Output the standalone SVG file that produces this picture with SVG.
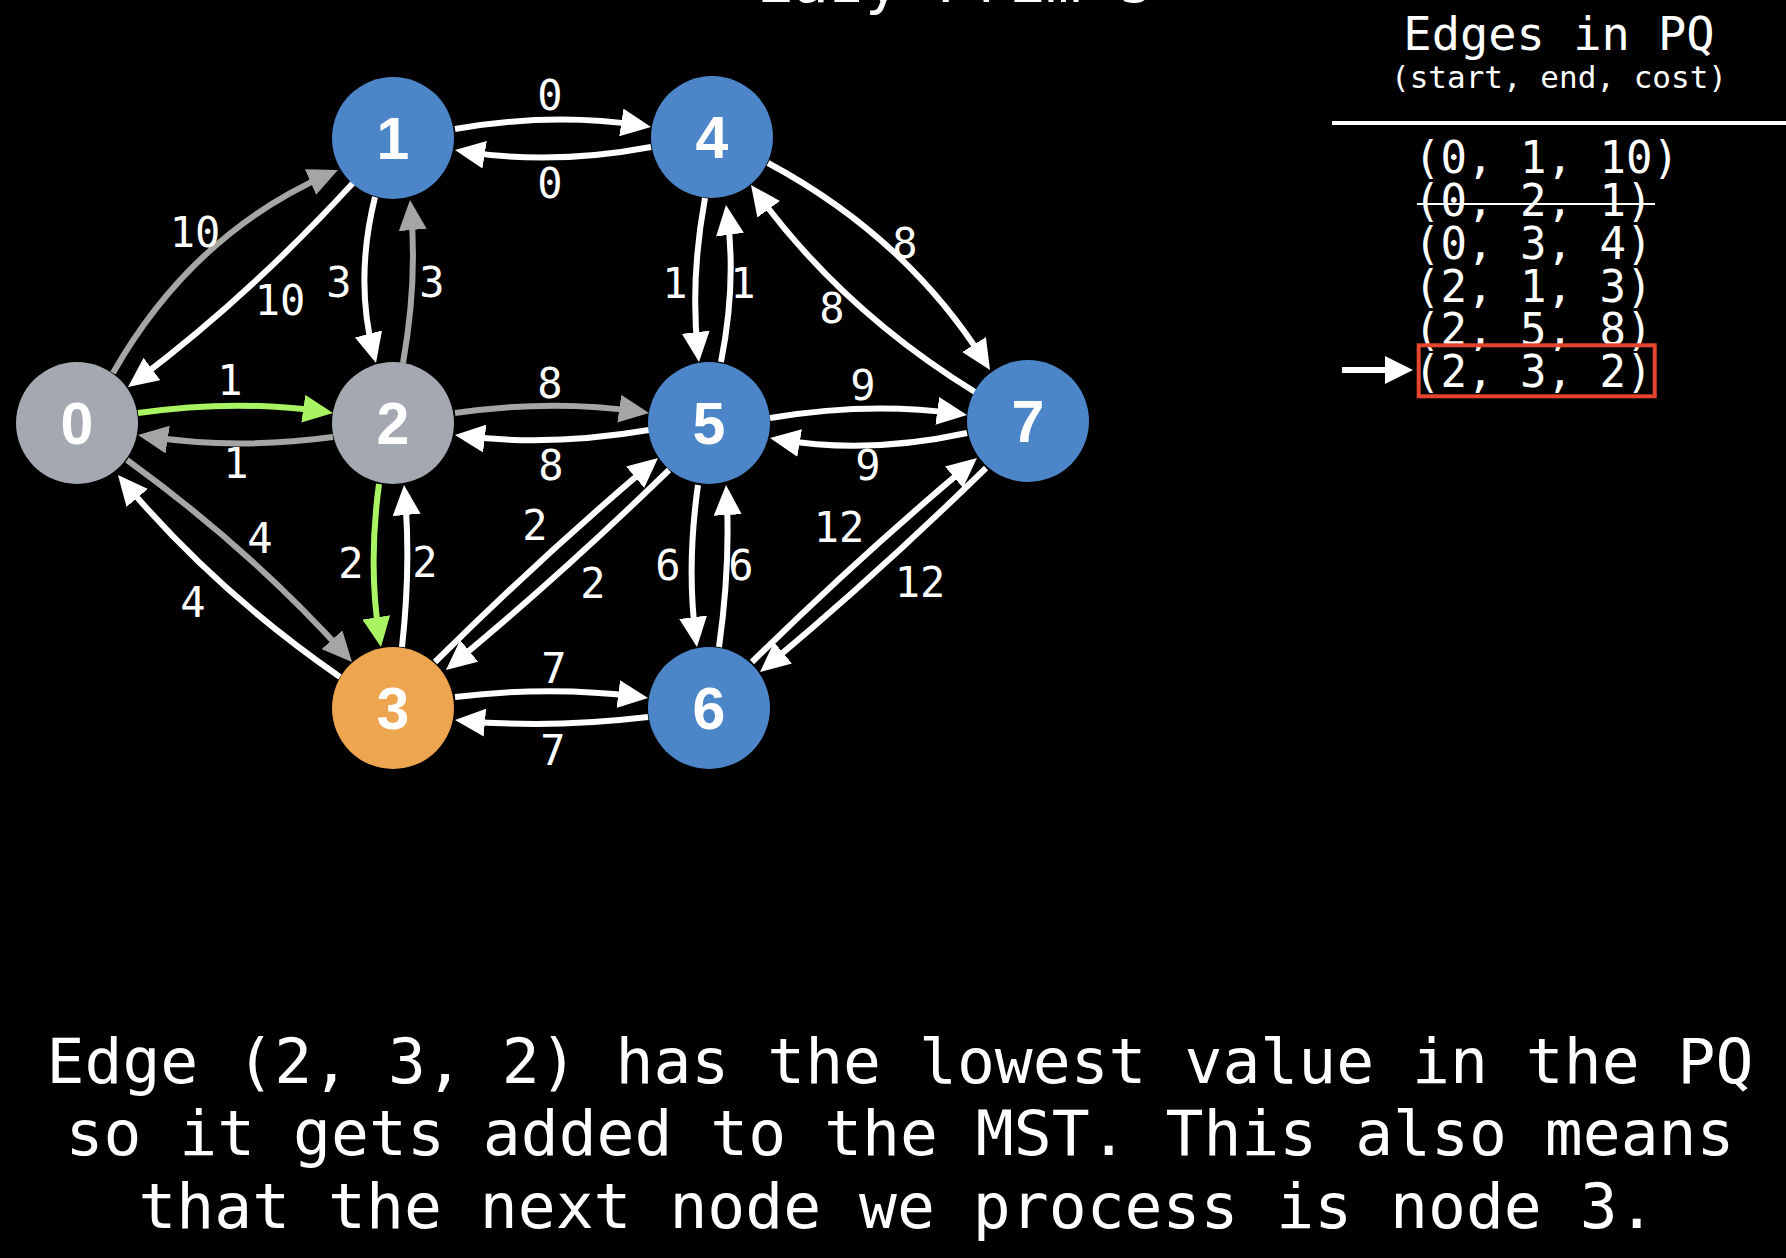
<svg xmlns="http://www.w3.org/2000/svg" width="1786" height="1258" viewBox="0 0 1786 1258">
<defs>
<style>
.e{fill:none;stroke-width:6}
.w{stroke:#ffffff}
.g{stroke:#a4a6a4}
.gr{stroke:#a8f462}
.w{marker-end:url(#aw)}
.g{marker-end:url(#ag)}
.gr{marker-end:url(#agr)}
.nl{font-family:"Liberation Sans",Arial,sans-serif;font-weight:bold;font-size:59px;fill:#ffffff;text-anchor:middle}
.lb{font-family:"DejaVu Sans Mono","Liberation Mono",monospace;font-size:42px;fill:#ffffff;text-anchor:middle}
.mono{font-family:"DejaVu Sans Mono","Liberation Mono",monospace;fill:#ffffff}
.pq{font-family:"DejaVu Sans Mono","Liberation Mono",monospace;fill:#ffffff;font-size:44px}
.cap{font-family:"DejaVu Sans Mono","Liberation Mono",monospace;fill:#ffffff;font-size:63px;text-anchor:middle}
.grey{fill:#a3a8b1}
.blue{fill:#4c86c8}
.orange{fill:#eea550}
</style>
<marker id="aw" markerUnits="userSpaceOnUse" markerWidth="30" markerHeight="28" refX="20" refY="14" orient="auto" viewBox="0 0 30 28"><path d="M0,0 L30,14 L0,28 z" fill="#ffffff"/></marker>
<marker id="ag" markerUnits="userSpaceOnUse" markerWidth="30" markerHeight="28" refX="20" refY="14" orient="auto" viewBox="0 0 30 28"><path d="M0,0 L30,14 L0,28 z" fill="#a4a6a4"/></marker>
<marker id="agr" markerUnits="userSpaceOnUse" markerWidth="30" markerHeight="28" refX="20" refY="14" orient="auto" viewBox="0 0 30 28"><path d="M0,0 L30,14 L0,28 z" fill="#a8f462"/></marker>
</defs>
<rect width="1786" height="1258" fill="#000000"/>
<text class="mono" x="955" y="1.5" font-size="60" text-anchor="middle">Lazy Prim's</text>
<g id="connectors">
<path class="e g" d="M113,373 Q192,234 328.8,174"/>
<path class="e w" d="M353,183 Q249.9,295.4 136,381"/>
<path class="e w" d="M455,129 Q553,112 641.1,125.5"/>
<path class="e w" d="M651,147 Q553,165.5 464.9,151.6"/>
<path class="e w" d="M705,198 Q690,280 697.9,352.1"/>
<path class="e w" d="M721,362 Q736.5,283.5 727.3,214.9"/>
<path class="e w" d="M768,163 Q906.3,237.3 984.7,361.5"/>
<path class="e w" d="M975,392 Q842.6,310.5 756.9,193.1"/>
<path class="e w" d="M770,418 Q868.5,401.5 957.1,413.6"/>
<path class="e w" d="M967,433 Q868.5,454.5 779.9,439.7"/>
<path class="e g" d="M455,413 Q552,399 639.1,411.6"/>
<path class="e w" d="M649,430 Q552,446.5 464.9,436.2"/>
<path class="e gr" d="M138,413 Q235.5,399 323.1,411.6"/>
<path class="e g" d="M333,437 Q235.5,450 147.9,436.5"/>
<path class="e w" d="M375,197 Q354.5,280 373.5,353.3"/>
<path class="e g" d="M403,363 Q417.5,281.5 410.9,210"/>
<path class="e g" d="M127,460 Q250.2,549.1 345.3,654.6"/>
<path class="e w" d="M340,677 Q215.5,590.8 124.4,482.6"/>
<path class="e gr" d="M379,484 Q368,565.5 379.4,637.1"/>
<path class="e w" d="M402,647 Q411,566 404.9,495"/>
<path class="e w" d="M435,662 Q542.5,555.6 650.4,464.4"/>
<path class="e w" d="M669,470 Q561.5,574.5 453.7,663.6"/>
<path class="e w" d="M698,485 Q686.5,566 695.7,637.1"/>
<path class="e w" d="M719,647 Q730.5,566 726.6,495"/>
<path class="e w" d="M752,662 Q860.5,555.6 969.3,464.4"/>
<path class="e w" d="M986,468 Q877,574.5 767.7,665.6"/>
<path class="e w" d="M455,697 Q551.5,685.5 638.1,696.7"/>
<path class="e w" d="M648,717 Q551.5,728.5 465,720.9"/>
<g id="edge-labels">
<text class="lb" x="195" y="247">10</text>
<text class="lb" x="280" y="315">10</text>
<text class="lb" x="339" y="297">3</text>
<text class="lb" x="432" y="297">3</text>
<text class="lb" x="230" y="395">1</text>
<text class="lb" x="236" y="478">1</text>
<text class="lb" x="550" y="110">0</text>
<text class="lb" x="550" y="198">0</text>
<text class="lb" x="550" y="398">8</text>
<text class="lb" x="551" y="480">8</text>
<text class="lb" x="675" y="298">1</text>
<text class="lb" x="743" y="298">1</text>
<text class="lb" x="905" y="258">8</text>
<text class="lb" x="832" y="323">8</text>
<text class="lb" x="863" y="400">9</text>
<text class="lb" x="868" y="480">9</text>
<text class="lb" x="535" y="540">2</text>
<text class="lb" x="593" y="598">2</text>
<text class="lb" x="668" y="580">6</text>
<text class="lb" x="741" y="580">6</text>
<text class="lb" x="839" y="542">12</text>
<text class="lb" x="920" y="597">12</text>
<text class="lb" x="554" y="683">7</text>
<text class="lb" x="553" y="765">7</text>
<text class="lb" x="260" y="553">4</text>
<text class="lb" x="193" y="617">4</text>
<text class="lb" x="351" y="578">2</text>
<text class="lb" x="425" y="577">2</text>
</g>
</g>
<g id="node0"><circle class="grey" cx="77" cy="423" r="61"/><text class="nl" x="77" y="444">0</text></g>
<g id="node1"><circle class="blue" cx="393" cy="138" r="61"/><text class="nl" x="393" y="159">1</text></g>
<g id="node2"><circle class="grey" cx="393" cy="423" r="61"/><text class="nl" x="393" y="444">2</text></g>
<g id="node3"><circle class="orange" cx="393" cy="708" r="61"/><text class="nl" x="393" y="729">3</text></g>
<g id="node4"><circle class="blue" cx="712" cy="137" r="61"/><text class="nl" x="712" y="158">4</text></g>
<g id="node5"><circle class="blue" cx="709" cy="423" r="61"/><text class="nl" x="709" y="444">5</text></g>
<g id="node6"><circle class="blue" cx="709" cy="708" r="61"/><text class="nl" x="709" y="729">6</text></g>
<g id="node7"><circle class="blue" cx="1028" cy="421" r="61"/><text class="nl" x="1028" y="442">7</text></g>
<g id="pq-panel">
<text class="mono" x="1559" y="50" font-size="47" text-anchor="middle">Edges in PQ</text>
<text class="mono" x="1559" y="88" font-size="31" text-anchor="middle">(start, end, cost)</text>
<line x1="1332" y1="123" x2="1786" y2="123" stroke="#ffffff" stroke-width="4"/>
<text class="pq" x="1414" y="173">(0, 1, 10)</text>
<text class="pq" x="1414" y="216">(0, 2, 1)</text>
<text class="pq" x="1414" y="259">(0, 3, 4)</text>
<text class="pq" x="1414" y="302">(2, 1, 3)</text>
<text class="pq" x="1414" y="345">(2, 5, 8)</text>
<text class="pq" x="1414" y="387">(2, 3, 2)</text>
<line x1="1417" y1="204" x2="1655" y2="204" stroke="#ffffff" stroke-width="2"/>
<rect x="1418.7" y="345.3" width="236" height="51" fill="none" stroke="#e5452f" stroke-width="4"/>
<line x1="1342" y1="370" x2="1388" y2="370" stroke="#ffffff" stroke-width="6"/>
<path d="M1385,356 L1413,370 L1385,384 z" fill="#ffffff"/>
</g>
<g id="caption">
<text class="cap" x="900" y="1083">Edge (2, 3, 2) has the lowest value in the PQ</text>
<text class="cap" x="900" y="1155">so it gets added to the MST. This also means</text>
<text class="cap" x="897" y="1228">that the next node we process is node 3.</text>
</g>
</svg>
